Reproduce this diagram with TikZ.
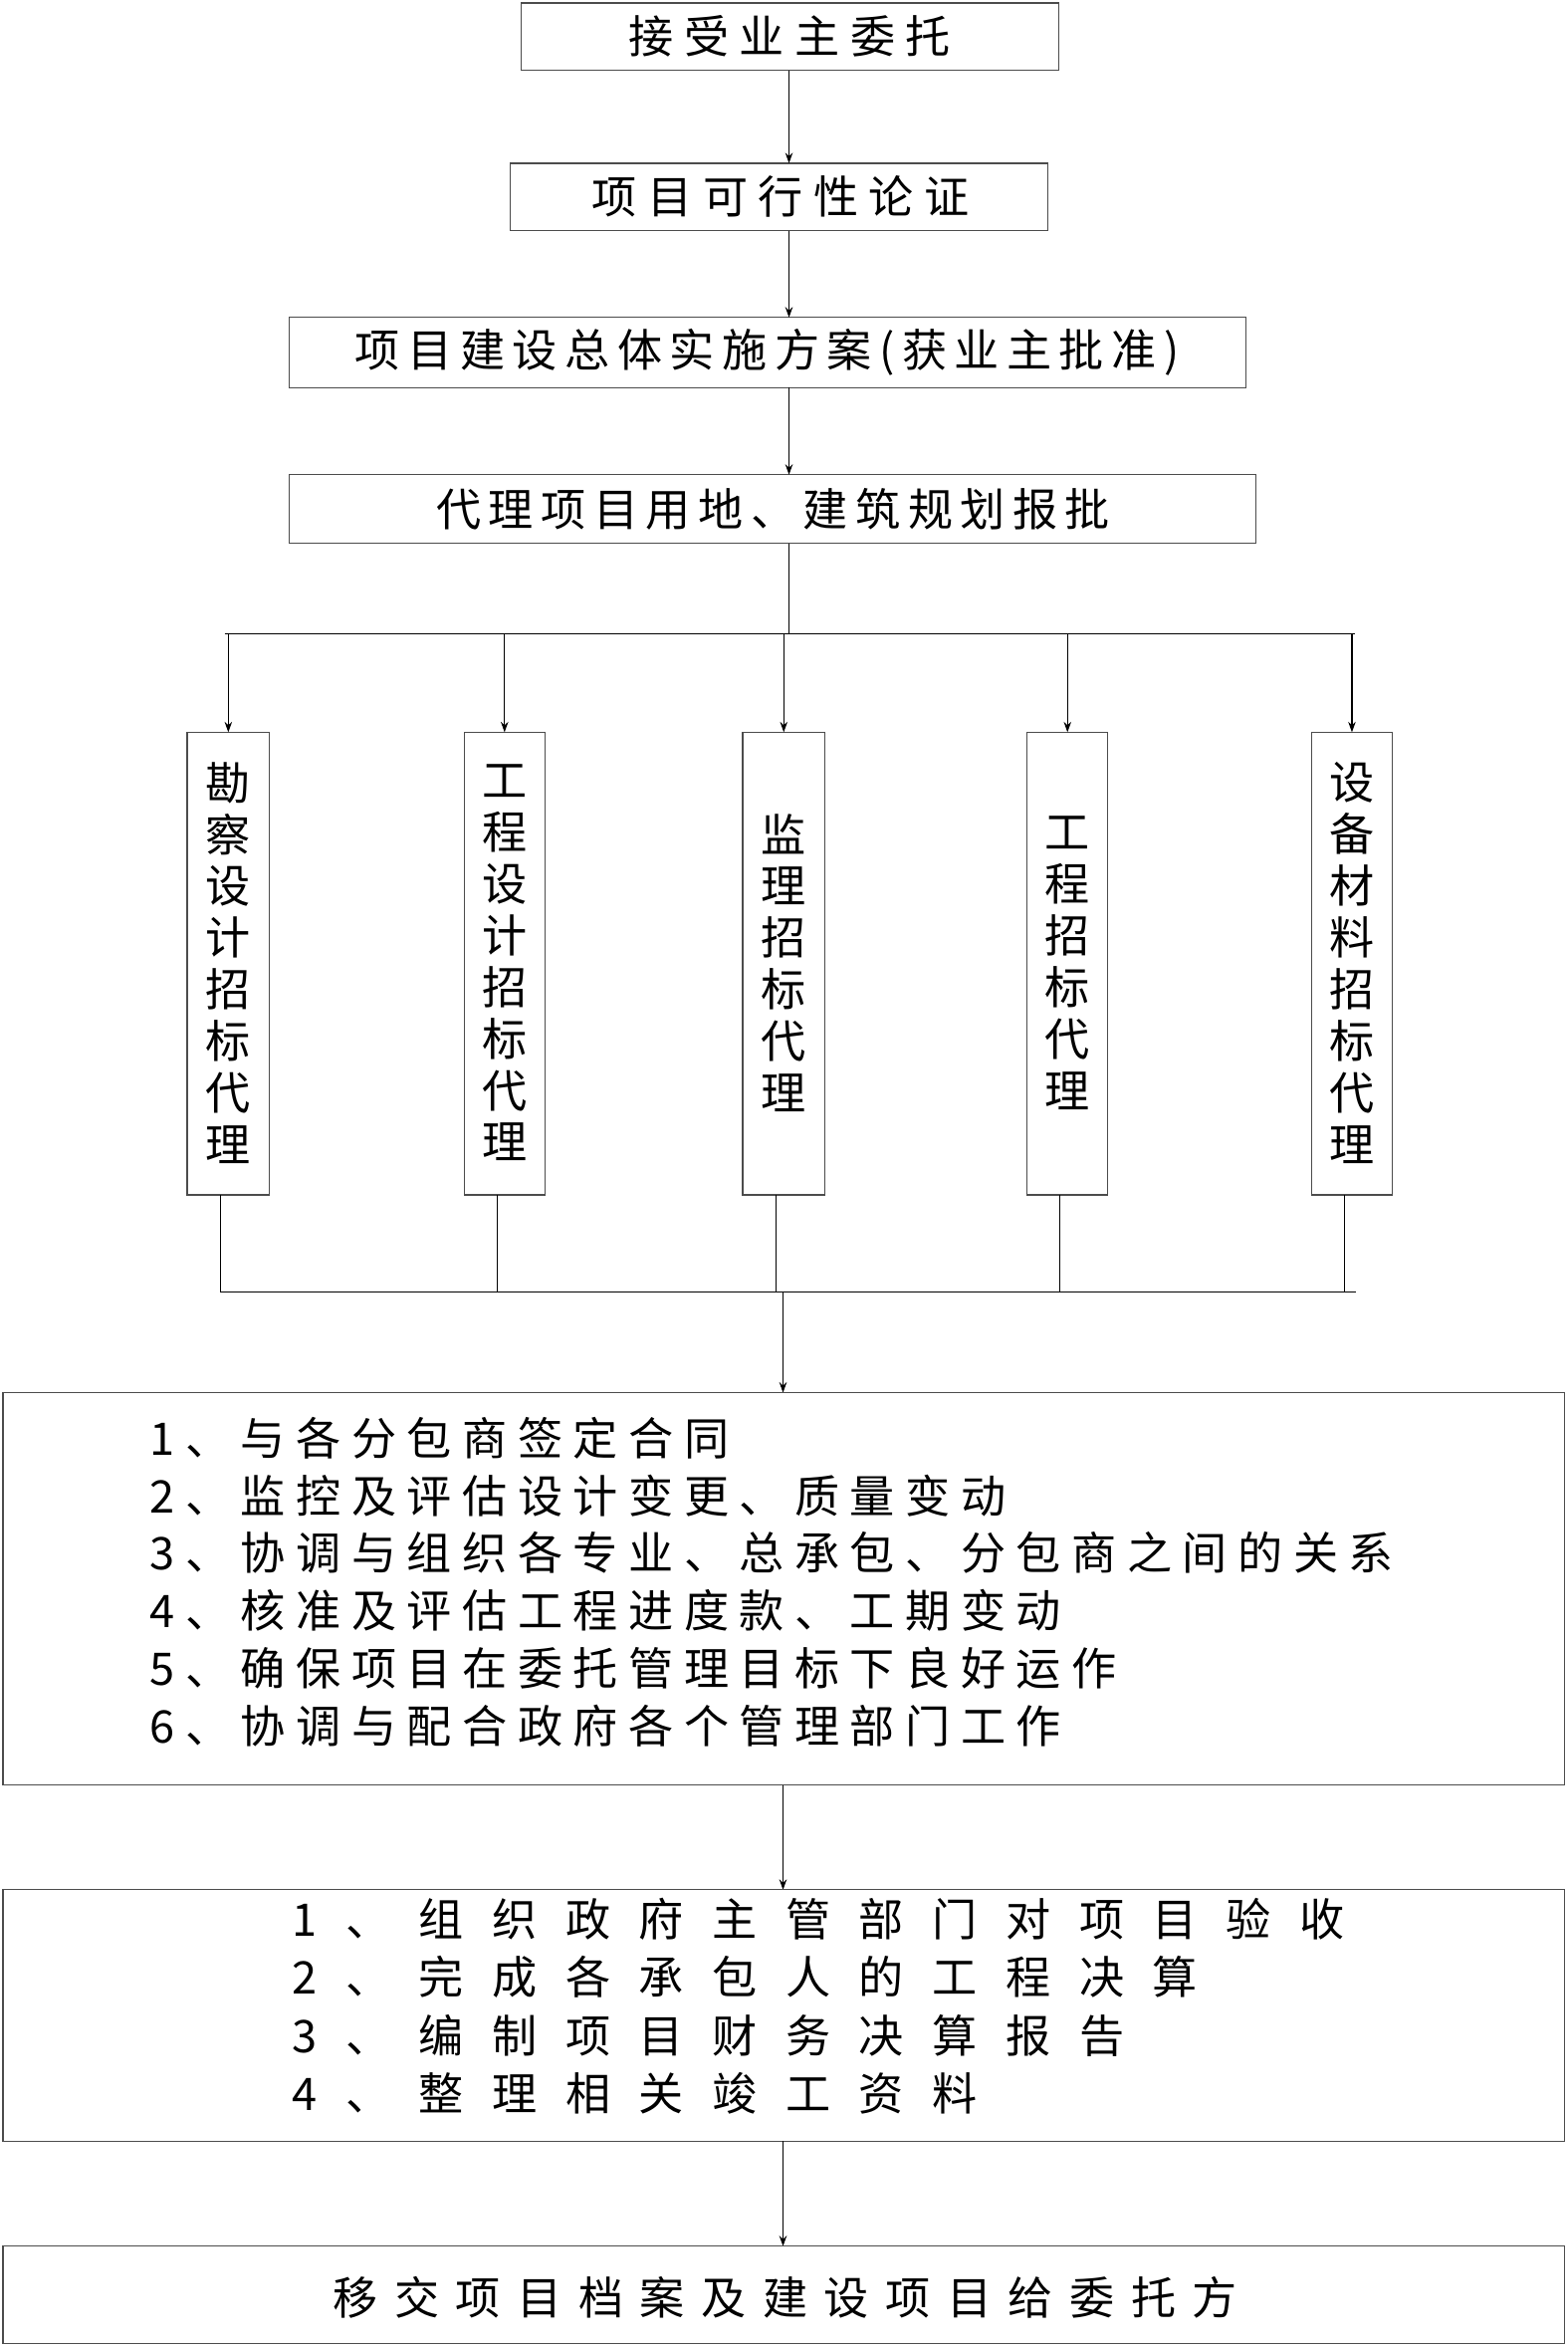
\documentclass[tikz,border=0pt]{standalone}
\usepackage{fontspec}
\setmainfont{Noto Sans CJK SC}
\usetikzlibrary{arrows.meta}
\newdimen\spk
\def\spc#1#2{\spk=#1pt\spcA#2\relax}
\def\spcA#1{\ifx#1\relax\else#1\kern\spk\expandafter\spcA\fi}
\begin{document}
\begin{tikzpicture}[x=1pt,y=-1pt,
  bx/.style={draw=black!70,line width=0.8pt,inner sep=0pt},
  ar/.style={-{Stealth[length=7pt,width=5pt]},line width=0.8pt},
  ln/.style={line width=0.8pt},
  tx/.style={font=\fontsize{30}{34}\selectfont,inner sep=0pt}]
\useasboundingbox (0,0) rectangle (1047,1568);
\draw[bx] (348,2) rectangle (707,47); \node[tx] (t1) at (531,24) {\spc{7}{接受业主委托}};
\draw[bx] (341,109) rectangle (700,154); \node[tx] (t2) at (525,131) {\spc{7}{项目可行性论证}};
\draw[bx] (193,212) rectangle (832,259); \node[tx] (t3) at (515,235) {\spc{5}{项目建设总体实施方案(获业主批准)}};
\draw[bx] (193,317) rectangle (839,363); \node[tx] (t4) at (519,340) {\spc{5}{代理项目用地、建筑规划报批}};
\coordinate (a1) at (527,47); \coordinate (a2) at (527,109);
\coordinate (b1) at (527,154); \coordinate (b2) at (527,212);
\coordinate (c1) at (527,259); \coordinate (c2) at (527,317);
\draw[ar] (a1)--(a2); \draw[ar] (b1)--(b2); \draw[ar] (c1)--(c2);
\coordinate (d1) at (527,363); \coordinate (d2) at (527,423);
\draw[ln] (d1)--(d2);
\draw[ln] (150,423)--(905,423);
\foreach \xa/\xb/\t in {125/180/{勘\\察\\设\\计\\招\\标\\代\\理},310/364/{工\\程\\设\\计\\招\\标\\代\\理},496/551/{监\\理\\招\\标\\代\\理},686/740/{工\\程\\招\\标\\代\\理},876/930/{设\\备\\材\\料\\招\\标\\代\\理}}{
  \draw[bx] (\xa,489) rectangle (\xb,798);
  \pgfmathsetmacro\xm{(\xa+\xb)/2}
  \node[font=\fontsize{30}{34.5}\selectfont,align=center,inner sep=0pt] at (\xm,643) {\t};
  \draw[ar] (\xm,423)--(\xm,489);
  \draw[ln] (\xm-5,798)--(\xm-5,863);
}
\draw[ln] (147,863)--(906,863);
\coordinate (e1) at (523,863); \coordinate (e2) at (523,930);
\draw[ar] (e1)--(e2);
\draw[bx] (2,930) rectangle (1045,1192);
\node[tx,anchor=north west,align=left,font=\fontsize{30}{38.5}\selectfont] (t5) at (100,946) {\spc{7}{1、与各分包商签定合同}\\\spc{7}{2、监控及评估设计变更、质量变动}\\\spc{7}{3、协调与组织各专业、总承包、分包商之间的关系}\\\spc{7}{4、核准及评估工程进度款、工期变动}\\\spc{7}{5、确保项目在委托管理目标下良好运作}\\\spc{7}{6、协调与配合政府各个管理部门工作}};
\coordinate (f1) at (523,1192); \coordinate (f2) at (523,1262);
\draw[ar] (f1)--(f2);
\draw[bx] (2,1262) rectangle (1045,1430);
\node[tx,anchor=north west,align=left,font=\fontsize{30}{39}\selectfont] (t6) at (195,1267) {\spc{19}{1、组织政府主管部门对项目验收}\\\spc{19}{2、完成各承包人的工程决算}\\\spc{19}{3、编制项目财务决算报告}\\\spc{19}{4、整理相关竣工资料}};
\coordinate (g1) at (523,1430); \coordinate (g2) at (523,1500);
\draw[ar] (g1)--(g2);
\draw[bx] (2,1500) rectangle (1045,1565);
\node[tx] (t7) at (530,1534) {\spc{11}{移交项目档案及建设项目给委托方}};
\end{tikzpicture}
\end{document}
